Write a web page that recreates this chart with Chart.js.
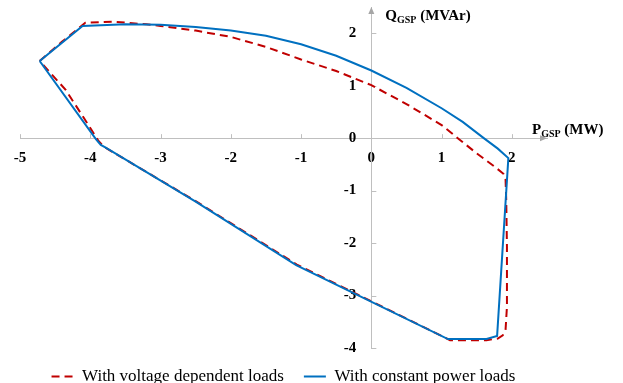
<!DOCTYPE html>
<html>
<head>
<meta charset="utf-8">
<script src="https://cdn.jsdelivr.net/npm/chart.js@4.4.1/dist/chart.umd.min.js"></script>
<style>
    html, body { margin: 0; padding: 0; background: #ffffff; }
</style>
</head>
<body>
<canvas id="pqChart" width="623" height="383"></canvas>
<script>
// Tick-Werte der beiden Achsen
const xTickValues = [-5, -4, -3, -2, -1, 0, 1, 2];
const yTickValues = [-4, -3, -2, -1, 0, 1, 2];

// Spannungsabhängige Lasten (rot, gestrichelt)
const voltageDepP = [-4.72, -4.40, -4.07, -3.68, -3.20, -3.00, -2.50, -2.00, -1.50, -1.00, -0.50, 0.00, 0.50, 1.00, 1.23, 1.50, 1.78, 1.88, 1.91, 1.92, 1.93, 1.93, 1.91, 1.87, 1.80, 1.64, 1.12, -1.06, -2.50, -3.80, -3.88, -4.05, -4.35, -4.72];
const voltageDepQ = [1.47, 1.84, 2.20, 2.22, 2.17, 2.14, 2.05, 1.93, 1.74, 1.50, 1.28, 1.01, 0.65, 0.25, 0.00, -0.29, -0.57, -0.68, -0.78, -1.18, -2.07, -3.21, -3.66, -3.76, -3.82, -3.85, -3.85, -2.41, -1.20, -0.17, -0.06, 0.30, 0.92, 1.47];

// Konstante Leistung (blau)
const constPowerP = [-4.72, -4.11, -3.50, -3.00, -2.50, -2.00, -1.50, -1.00, -0.50, 0.00, 0.50, 1.00, 1.30, 1.60, 1.80, 1.95, 1.79, 1.64, 1.09, -1.07, -2.50, -3.78, -3.85, -3.92, -4.72];
const constPowerQ = [1.47, 2.14, 2.17, 2.16, 2.12, 2.05, 1.95, 1.79, 1.57, 1.29, 0.96, 0.57, 0.31, 0.00, -0.20, -0.38, -3.77, -3.83, -3.83, -2.42, -1.21, -0.18, -0.13, -0.02, 1.47];

const serif = "'Liberation Serif', 'Times New Roman', serif";
const axisGrey = "#bfbfbf";

function toPoints(xs, ys) {
    return xs.map((v, i) => ({x: v, y: ys[i]}));
}

// Zeichnet Pfeile, Tick-Striche und Achsentitel mit Index
const axisDecor = {
    id: "axisDecor",
    beforeDatasetsDraw(chart) {
        const {ctx, chartArea, scales} = chart;
        const x0 = scales.x.getPixelForValue(0);
        const y0 = scales.y.getPixelForValue(0);
        ctx.save();
        ctx.strokeStyle = axisGrey;
        ctx.lineWidth = 1;
        ctx.beginPath();
        xTickValues.forEach(v => {
            const px = Math.round(scales.x.getPixelForValue(v)) + 0.5;
            ctx.moveTo(px, y0);
            ctx.lineTo(px, y0 - 4);
        });
        yTickValues.forEach(v => {
            const py = Math.round(scales.y.getPixelForValue(v)) + 0.5;
            ctx.moveTo(x0, py);
            ctx.lineTo(x0 + 5, py);
        });
        ctx.stroke();

        ctx.fillStyle = "#a6a6a6";
        ctx.beginPath();
        ctx.moveTo(chartArea.right, y0);
        ctx.lineTo(chartArea.right - 7, y0 - 3);
        ctx.lineTo(chartArea.right - 7, y0 + 3);
        ctx.closePath();
        ctx.fill();
        ctx.beginPath();
        ctx.moveTo(x0, chartArea.top);
        ctx.lineTo(x0 - 3, chartArea.top + 7);
        ctx.lineTo(x0 + 3, chartArea.top + 7);
        ctx.closePath();
        ctx.fill();
        ctx.restore();
    },
    afterDraw(chart) {
        const {ctx, chartArea, scales} = chart;
        const x0 = scales.x.getPixelForValue(0);
        const y0 = scales.y.getPixelForValue(0);
        ctx.save();
        ctx.fillStyle = "#000000";
        ctx.textBaseline = "alphabetic";
        drawSubLabel(ctx, "Q", "GSP", " (MVAr)", x0 + 14, chartArea.top + 13);
        drawSubLabel(ctx, "P", "GSP", " (MW)", chartArea.right - 15, y0 - 4);
        ctx.restore();
    }
};

function drawSubLabel(ctx, main, sub, rest, x, baseline) {
    ctx.font = "bold 15px " + serif;
    ctx.fillText(main, x, baseline);
    x += ctx.measureText(main).width;
    ctx.font = "bold 10px " + serif;
    ctx.fillText(sub, x, baseline + 3);
    x += ctx.measureText(sub).width;
    ctx.font = "bold 15px " + serif;
    ctx.fillText(rest, x, baseline);
}

const tickFont = {family: serif, size: 15, weight: "bold"};

const pqChart = new Chart(document.getElementById("pqChart"), {
    type: "scatter",
    data: {
        datasets: [{
            label: "With voltage dependent loads",
            data: toPoints(voltageDepP, voltageDepQ),
            showLine: true,
            borderColor: "#c00000",
            backgroundColor: "#c00000",
            borderWidth: 2,
            borderDash: [8, 5],
            pointRadius: 0,
            tension: 0,
            order: 1
        }, {
            label: "With constant power loads",
            data: toPoints(constPowerP, constPowerQ),
            showLine: true,
            borderColor: "#0070c0",
            backgroundColor: "#0070c0",
            borderWidth: 2,
            pointRadius: 0,
            tension: 0,
            order: 0
        }]
    },
    options: {
        responsive: false,
        animation: false,
        devicePixelRatio: 1,
        events: [],
        layout: {
            padding: {left: 20, right: 76, top: 7, bottom: -12}
        },
        scales: {
            x: {
                type: "linear",
                min: -5,
                max: 2.5,
                position: {y: 0},
                afterBuildTicks: s => { s.ticks = xTickValues.map(v => ({value: v})); },
                afterFit: s => { s.paddingLeft = 0; s.paddingRight = 0; },
                grid: {drawOnChartArea: false, drawTicks: true, tickLength: 8, tickColor: "rgba(0,0,0,0)"},
                border: {display: true, color: axisGrey, width: 1},
                ticks: {font: tickFont, color: "#000000", padding: 3, maxRotation: 0, autoSkip: false}
            },
            y: {
                type: "linear",
                min: -4,
                max: 2.5,
                position: {x: 0},
                afterBuildTicks: s => { s.ticks = yTickValues.map(v => ({value: v})); },
                afterFit: s => { s.paddingTop = 0; s.paddingBottom = 0; },
                grid: {drawOnChartArea: false, drawTicks: true, tickLength: 8, tickColor: "rgba(0,0,0,0)"},
                border: {display: true, color: axisGrey, width: 1},
                // Abstand zur Achse über ein Geviertleerzeichen
                ticks: {font: tickFont, color: "#000000", padding: 6, autoSkip: false,
                        callback: v => v + "\u2003"}
            }
        },
        plugins: {
            tooltip: {enabled: false},
            legend: {
                position: "bottom",
                labels: {
                    usePointStyle: true,
                    pointStyle: "line",
                    pointStyleWidth: 22,
                    padding: 20,
                    color: "#000000",
                    font: {family: serif, size: 17},
                    sort: (a, b) => a.datasetIndex - b.datasetIndex,
                    generateLabels: chart => Chart.defaults.plugins.legend.labels.generateLabels(chart).map(item => {
                        const ds = chart.data.datasets[item.datasetIndex];
                        item.lineDash = ds.borderDash || [];
                        item.lineWidth = ds.borderWidth;
                        item.strokeStyle = ds.borderColor;
                        return item;
                    })
                }
            }
        }
    },
    plugins: [axisDecor]
});
</script>
</body>
</html>
